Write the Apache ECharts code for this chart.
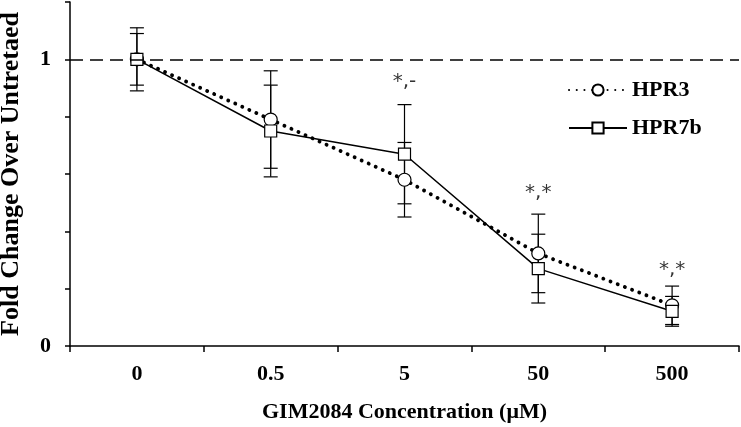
<!DOCTYPE html>
<html><head><meta charset="utf-8">
<script src="https://cdn.jsdelivr.net/npm/echarts@6/dist/echarts.min.js"></script>
<style>html,body{margin:0;padding:0;background:#fff}#c{width:741px;height:427px}</style>
</head><body><div id="c"></div>
<script>
const categories = ['0', '0.5', '5', '50', '500'];
const hpr3 = [1.0, 0.79, 0.58, 0.323, 0.142];
const hpr3Err = [0.11, 0.17, 0.13, 0.137, 0.067];
const hpr7b = [1.0, 0.75, 0.669, 0.27, 0.121];
const hpr7bErr = [0.09, 0.16, 0.173, 0.12, 0.052];
const annotCats = ['5', '50', '500'];
const annotText = ['*,-', '*,*', '*,*'];
const annotY = [0.92, 0.535, 0.265];

const serif = '"Liberation Serif", "Times New Roman", serif';
function errData(vals, errs) {
  return vals.map((v, i) => [i, v - errs[i], v + errs[i]]);
}
function errRender(params, api) {
  const x = api.value(0);
  const lo = api.coord([x, api.value(1)]);
  const hi = api.coord([x, api.value(2)]);
  const w = 7;
  const st = { stroke: '#000', lineWidth: 1.2 };
  return { type: 'group', children: [
    { type: 'line', shape: { x1: lo[0], y1: lo[1], x2: hi[0], y2: hi[1] }, style: st },
    { type: 'line', shape: { x1: lo[0] - w, y1: lo[1], x2: lo[0] + w, y2: lo[1] }, style: st },
    { type: 'line', shape: { x1: hi[0] - w, y1: hi[1], x2: hi[0] + w, y2: hi[1] }, style: st }
  ]};
}
const chart = echarts.init(document.getElementById('c'));
chart.setOption({
  animation: false,
  backgroundColor: '#fff',
  grid: { left: 70, right: 2, top: 2, bottom: 81, containLabel: false, outerBoundsMode: 'none' },
  legend: {
    data: ['HPR3', 'HPR7b'], orient: 'vertical', left: 563, top: 74,
    itemWidth: 58, itemHeight: 14, itemGap: 16,
    textStyle: { fontFamily: serif, fontWeight: 'bold', fontSize: 22, color: '#000' }
  },
  xAxis: {
    type: 'category', data: categories, boundaryGap: true,
    name: 'GIM2084 Concentration (μM)', nameLocation: 'middle', nameGap: 55,
    nameTextStyle: { fontFamily: serif, fontWeight: 'bold', fontSize: 22, color: '#000' },
    axisLine: { lineStyle: { color: '#000', width: 1.5 } },
    axisTick: { show: true, length: 6, lineStyle: { color: '#000', width: 1.5 } },
    axisLabel: { margin: 17, fontFamily: serif, fontWeight: 'bold', fontSize: 22, color: '#000' }
  },
  yAxis: {
    type: 'value', min: 0, max: 1.2, interval: 0.2,
    name: 'Fold Change Over Untretaed', nameLocation: 'middle', nameGap: 46,
    nameTextStyle: { fontFamily: serif, fontWeight: 'bold', fontSize: 26, color: '#000' },
    axisLine: { show: true, lineStyle: { color: '#000', width: 1.5 } },
    axisTick: { show: true, length: 5, lineStyle: { color: '#000', width: 1.5 } },
    splitLine: { show: false },
    axisLabel: {
      margin: 19, fontFamily: serif, fontWeight: 'bold', fontSize: 22, color: '#000',
      formatter: v => (Math.abs(v) < 1e-9 ? '0' : Math.abs(v - 1) < 1e-9 ? '1' : '')
    }
  },
  series: [
    { type: 'custom', renderItem: errRender, data: errData(hpr3, hpr3Err), z: 1, silent: true },
    { type: 'custom', renderItem: errRender, data: errData(hpr7b, hpr7bErr), z: 1, silent: true },
    {
      name: 'HPR3', type: 'line', data: hpr3, symbol: 'circle', symbolSize: 13, z: 3,
      itemStyle: { color: '#fff', borderColor: '#000', borderWidth: 1.2 },
      lineStyle: { color: '#000', width: 3.8, type: [0.1, 7.6], cap: 'round' },
      markLine: {
        silent: true, symbol: 'none', label: { show: false },
        lineStyle: { color: '#000', type: [13, 7], width: 1.5 },
        data: [{ yAxis: 1 }]
      }
    },
    {
      name: 'HPR7b', type: 'line', data: hpr7b, symbol: 'rect', symbolSize: 12, z: 4,
      itemStyle: { color: '#fff', borderColor: '#000', borderWidth: 1.2 },
      lineStyle: { color: '#000', width: 1.5 }
    },
    {
      type: 'scatter', symbolSize: 0, z: 5, silent: true,
      data: annotCats.map((c, i) => ({ value: [c, annotY[i]], label: { formatter: annotText[i] } })),
      label: { show: true, position: 'inside', fontFamily: '"DejaVu Sans", sans-serif', fontSize: 20, color: '#000' }
    }
  ]
});
</script></body></html>
